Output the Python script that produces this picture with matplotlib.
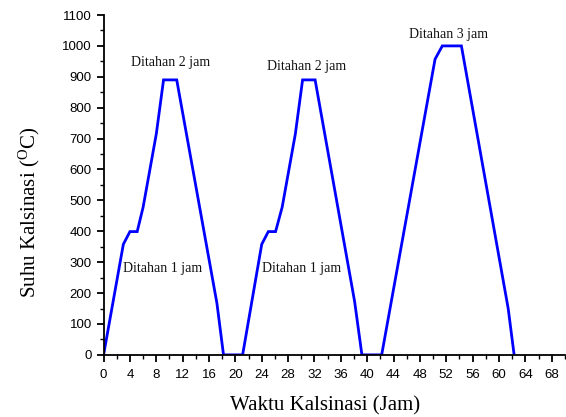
import matplotlib
matplotlib.use("Agg")
import matplotlib.pyplot as plt
from matplotlib.ticker import MultipleLocator

# Data (hours, temperature °C)
time_h = [0, 3.0, 4.0, 5.1, 6.0, 8.0, 9.1, 11.1, 17.2, 18.2,
          21.1, 24.0, 25.0, 26.1, 27.1, 29.1, 30.2, 32.1, 38.1, 39.2,
          42.2, 50.3, 51.4, 54.3, 61.4, 62.3]
temp_c = [0, 358, 399, 399, 478, 715, 890, 890, 167, 0,
          0, 358, 399, 399, 478, 715, 890, 890, 172, 0,
          0, 957, 1000, 1000, 150, 0]

annotations = [
    ("Ditahan 2 jam", 10.2, 945),
    ("Ditahan 2 jam", 30.8, 932),
    ("Ditahan 3 jam", 52.4, 1037),
    ("Ditahan 1 jam", 8.9, 278),
    ("Ditahan 1 jam", 30.0, 278),
]

x_ticks = list(range(0, 69, 4))
y_ticks = list(range(0, 1101, 100))

fig = plt.figure(figsize=(5.66, 4.17), dpi=100)
ax = fig.add_axes([0.183, 0.149, 0.815, 0.815])

ax.plot(time_h, temp_c, color=(0, 0, 1), lw=2.0, solid_joinstyle="miter")

for txt, x, y in annotations:
    ax.text(x, y, txt, ha="center", va="center", fontsize=10,
            family="Liberation Serif", color="#111111")

ax.set_xlim(0, 70)
ax.set_ylim(0, 1100)
ax.set_xticks(x_ticks)
ax.set_yticks(y_ticks)
ax.xaxis.set_minor_locator(MultipleLocator(2))
ax.yaxis.set_minor_locator(MultipleLocator(50))

for s in ["top", "right"]:
    ax.spines[s].set_visible(False)
for s in ["left", "bottom"]:
    ax.spines[s].set_linewidth(1.3)

ax.tick_params(which="major", direction="out", length=5, width=1.3, labelsize=9.5)
ax.tick_params(axis="x", which="major", pad=5)
ax.tick_params(which="minor", direction="out", length=3, width=1.0)
for lbl in ax.get_xticklabels() + ax.get_yticklabels():
    lbl.set_family("Liberation Sans")

ax.set_xlabel("Waktu Kalsinasi (Jam)", family="Liberation Serif", fontsize=15)
ax.set_ylabel("Suhu Kalsinasi ($\\mathregular{^{O}}$C)", family="Liberation Serif", fontsize=15)
ax.xaxis.set_label_coords(0.48, -0.121)
ax.yaxis.set_label_coords(-0.134, 0.42)

fig.savefig("out.png", dpi=100)
